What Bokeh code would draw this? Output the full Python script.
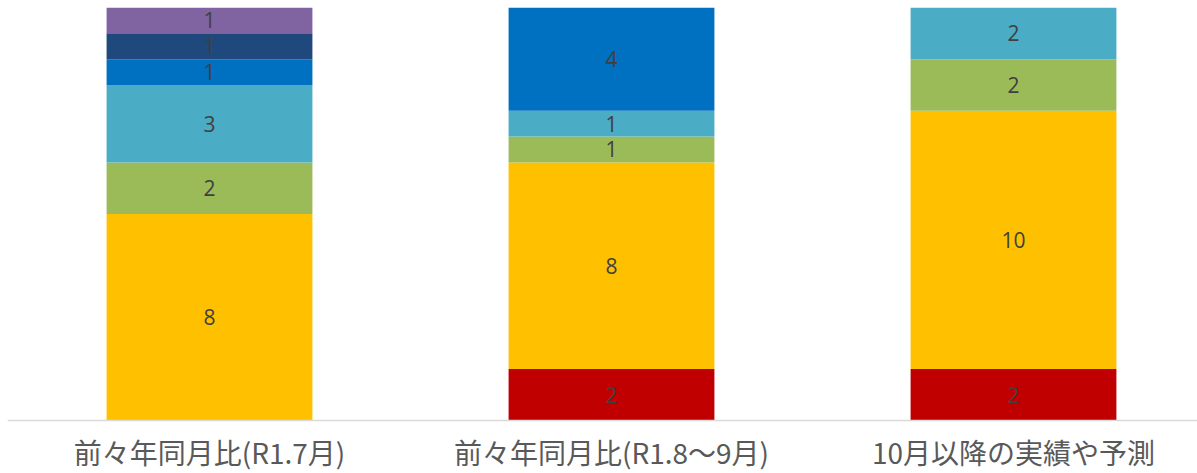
from bokeh.plotting import figure
from bokeh.models import ColumnDataSource, Range1d, Span
from bokeh.embed import file_html
from bokeh.resources import INLINE
from bokeh.core.properties import value

# ---- data ----
categories = ["前々年同月比(R1.7月)", "前々年同月比(R1.8～9月)", "10月以降の実績や予測"]
series = ["red", "yellow", "green", "lightblue", "blue", "darkblue", "purple"]
red = [0, 2, 2]
yellow = [8, 8, 10]
green = [2, 1, 2]
lightblue = [3, 1, 2]
blue = [1, 4, 0]
darkblue = [1, 0, 0]
purple = [1, 0, 0]
colors = ["#C00000", "#FFC000", "#9BBB59", "#4BACC6", "#0070C0", "#1F497D", "#8064A2"]

values = [red, yellow, green, lightblue, blue, darkblue, purple]
xpos = [i + 0.5 for i in range(len(categories))]

data = {"x": xpos}
for name, vals in zip(series, values):
    data[name] = vals
src = ColumnDataSource(data)

# label positions from the stacked data
lx, ly, lt = [], [], []
for ci in range(len(categories)):
    bottom = 0
    for vals in values:
        v = vals[ci]
        if v > 0:
            lx.append(xpos[ci])
            ly.append(bottom + v / 2)
            lt.append(str(v))
        bottom += v
lab_src = ColumnDataSource(dict(x=lx, y=ly, t=lt))

W, H = 1197, 473
left = 7
top = 7
axis_px = 420            # pixel row of the category axis
step_px = 402
frame_w = W - left
x0 = 0.5 - (209 - left) / step_px
ymax = 16
px_per_unit = (axis_px - top) / ymax
ymin = -(H - axis_px) / px_per_unit
cat_y = -(451 - axis_px) / px_per_unit

p = figure(width=W, height=H,
           x_range=Range1d(x0, x0 + frame_w / step_px), y_range=Range1d(ymin, ymax),
           output_backend="svg", toolbar_location=None,
           min_border_left=left, min_border_right=0, min_border_top=top,
           min_border_bottom=0)

p.vbar_stack(series, x="x", width=0.512, color=colors, source=src, line_color=None)

p.text(x="x", y="y", text="t", source=lab_src, text_align="center", text_baseline="middle",
       text_font=value("Open Sans"), text_font_size="21px", text_color="#404040")

# category axis line and labels
p.add_layout(Span(location=0, dimension="width", line_color="#D9D9D9", line_width=1.5))
cat_src = ColumnDataSource(dict(x=xpos, y=[cat_y] * len(xpos), t=categories))
p.text(x="x", y="y", text="t", source=cat_src, text_align="center", text_baseline="middle",
       text_font=value("Noto Sans CJK JP"), text_font_size="28px", text_color="#595959")

p.xaxis.visible = False
p.yaxis.visible = False
p.xgrid.visible = False
p.ygrid.visible = False
p.outline_line_color = None
p.background_fill_color = "white"
p.border_fill_color = "white"

open("out.html", "w").write(file_html(p, INLINE))
